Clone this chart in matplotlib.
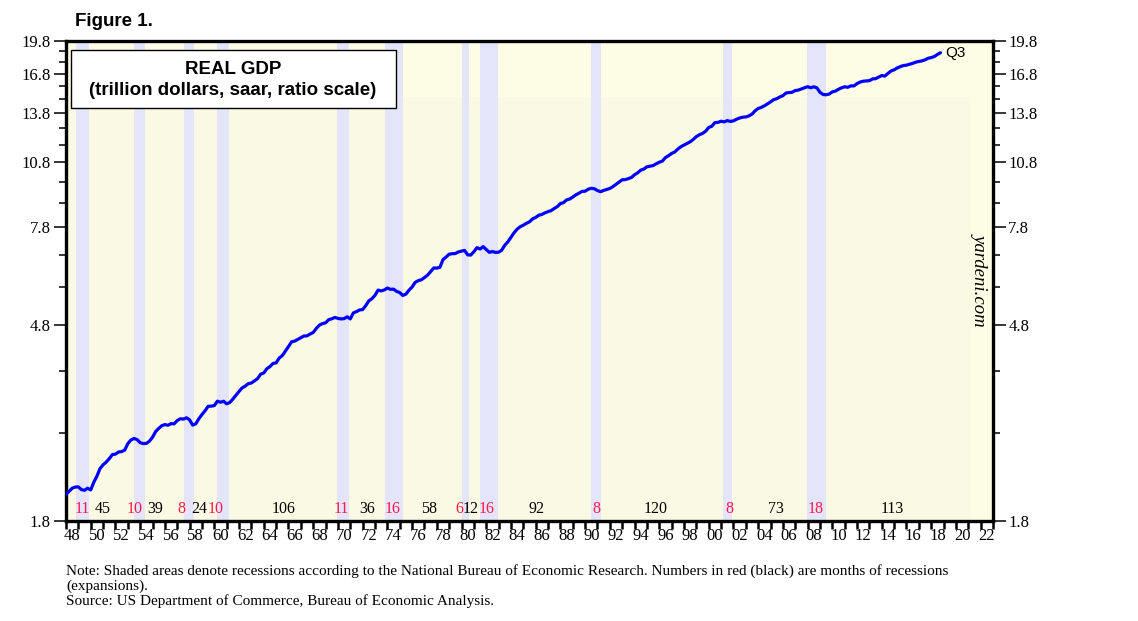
import matplotlib
matplotlib.use("Agg")
import matplotlib.pyplot as plt
import matplotlib.transforms as mtransforms
import numpy as np

# ---------------- data ----------------
# Real GDP, billions of chained dollars, quarterly from 1947Q1 to 2018Q3
gdp_start_year = 1947
gdp_q = [
    2033.1, 2027.6, 2023.5, 2055.1,   # 1947
    2086.0, 2120.4, 2132.6, 2134.0,   # 1948
    2105.6, 2098.4, 2120.0, 2102.3,   # 1949
    2184.9, 2251.5, 2338.5, 2383.2,   # 1950
    2415.7, 2457.5, 2508.2, 2513.7,   # 1951
    2540.6, 2546.0, 2564.4, 2648.6,   # 1952
    2697.9, 2718.7, 2703.7, 2662.5,   # 1953
    2649.7, 2652.6, 2682.6, 2735.1,   # 1954
    2813.2, 2858.8, 2897.6, 2914.0,   # 1955
    2903.7, 2927.7, 2925.0, 2973.2,   # 1956
    3000.0, 2994.5, 3014.5, 2983.1,   # 1957
    2906.3, 2925.4, 3000.7, 3063.7,   # 1958
    3121.9, 3192.4, 3194.7, 3203.8,   # 1959
    3275.8, 3258.1, 3274.0, 3232.0,   # 1960
    3253.8, 3309.1, 3372.6, 3438.7,   # 1961
    3500.1, 3531.4, 3575.1, 3586.8,   # 1962
    3625.3, 3666.7, 3747.3, 3771.8,   # 1963
    3851.4, 3893.3, 3954.1, 3966.3,   # 1964
    4062.3, 4113.6, 4205.1, 4301.0,   # 1965
    4406.0, 4421.2, 4459.2, 4495.8,   # 1966
    4535.6, 4538.4, 4581.3, 4615.9,   # 1967
    4709.9, 4788.7, 4825.7, 4844.1,   # 1968
    4920.9, 4942.1, 4976.4, 4953.0,   # 1969
    4940.0, 4947.0, 4992.4, 4939.0,   # 1970
    5091.2, 5122.6, 5165.5, 5175.9,   # 1971
    5278.1, 5405.2, 5466.1, 5558.8,   # 1972
    5705.2, 5680.7, 5709.1, 5763.3,   # 1973
    5726.6, 5732.0, 5668.8, 5634.3,   # 1974
    5554.6, 5590.1, 5703.2, 5791.9,   # 1975
    5930.1, 5978.6, 6006.9, 6072.4,   # 1976
    6145.5, 6256.8, 6370.4, 6368.1,   # 1977
    6389.5, 6643.3, 6728.8, 6825.5,   # 1978
    6842.4, 6847.9, 6903.4, 6932.4,   # 1979
    6954.9, 6801.2, 6797.2, 6909.2,   # 1980
    7052.4, 7004.4, 7088.7, 6988.7,   # 1981
    6889.8, 6915.7, 6887.5, 6893.3,   # 1982
    6963.5, 7136.7, 7260.1, 7428.0,   # 1983
    7595.6, 7734.8, 7827.8, 7890.1,   # 1984
    7963.8, 8024.1, 8141.5, 8202.0,   # 1985
    8292.8, 8324.1, 8391.9, 8441.9,   # 1986
    8485.9, 8576.6, 8656.0, 8790.6,   # 1987
    8830.4, 8951.5, 8990.0, 9079.3,   # 1988
    9180.8, 9255.8, 9341.3, 9349.0,   # 1989
    9443.8, 9486.8, 9464.2, 9380.2,   # 1990
    9325.2, 9383.9, 9432.8, 9479.2,   # 1991
    9567.0, 9676.1, 9786.9, 9898.9,   # 1992
    9908.4, 9955.6, 10014.9, 10151.5, # 1993
    10248.7, 10386.1, 10443.4, 10562.3,  # 1994
    10596.2, 10625.4, 10722.3, 10805.7,  # 1995
    10869.0, 11061.6, 11167.0, 11291.0,  # 1996
    11373.1, 11538.8, 11677.4, 11771.4,  # 1997
    11873.2, 11966.7, 12109.8, 12281.6,  # 1998
    12398.0, 12477.5, 12617.2, 12854.8,  # 1999
    12935.3, 13170.7, 13183.9, 13262.2,  # 2000
    13219.3, 13301.4, 13248.1, 13284.9,  # 2001
    13394.9, 13477.4, 13531.7, 13549.4,  # 2002
    13619.4, 13741.1, 13970.2, 14131.4,  # 2003
    14212.3, 14323.0, 14457.8, 14605.6,  # 2004
    14767.8, 14839.8, 14972.1, 15066.6,  # 2005
    15267.0, 15302.7, 15326.4, 15456.9,  # 2006
    15493.3, 15582.1, 15666.7, 15762.0,  # 2007
    15671.4, 15752.3, 15667.0, 15328.0,  # 2008
    15155.9, 15134.1, 15189.2, 15356.1,  # 2009
    15415.1, 15557.3, 15671.9, 15750.6,  # 2010
    15712.8, 15825.1, 15820.7, 16004.1,  # 2011
    16129.4, 16198.8, 16220.7, 16239.1,  # 2012
    16382.9, 16403.2, 16531.7, 16663.6,  # 2013
    16616.5, 16841.5, 17047.1, 17143.0,  # 2014
    17305.8, 17422.8, 17514.1, 17550.7,  # 2015
    17625.6, 17706.7, 17814.8, 17876.2,  # 2016
    17925.3, 18021.0, 18163.6, 18223.8,  # 2017
    18323.9, 18511.6, 18671.5,           # 2018
]

# NBER recessions: (peak year, peak month, trough year, trough month)
recessions = [
    (1948, 11, 1949, 10), (1953, 7, 1954, 5), (1957, 8, 1958, 4),
    (1960, 4, 1961, 2), (1969, 12, 1970, 11), (1973, 11, 1975, 3),
    (1980, 1, 1980, 7), (1981, 7, 1982, 11), (1990, 7, 1991, 3),
    (2001, 3, 2001, 11), (2007, 12, 2009, 6),
]

# months of recession (red) / expansion (black) labels
cycle_labels = ["11", "45", "10", "39", "8", "24", "10", "106", "11", "36", "16",
                "58", "6", "12", "16", "92", "8", "120", "8", "73", "18", "113"]
cycle_is_recession = [1, 0, 1, 0, 1, 0, 1, 0, 1, 0, 1,
                      0, 1, 0, 1, 0, 1, 0, 1, 0, 1, 0]
cycle_label_year = [1949.31, 1950.98, 1953.56, 1955.19, 1957.37, 1958.75, 1960.1,
                    1965.57, 1970.24, 1972.39, 1974.44, 1977.38, 1979.8, 1980.75,
                    1982.06, 1986.09, 1990.89, 1995.69, 2001.65, 2005.42, 2008.66,
                    2014.88]

y_major = [1.8, 4.8, 7.8, 10.8, 13.8, 16.8, 19.8]
y_minor = [2.8, 3.8, 5.8, 6.8, 8.8, 9.8, 11.8, 12.8, 14.8, 15.8, 17.8, 18.8]
x_first, x_last = 1948, 2023

# ---------------- figure ----------------
W, H = 1138, 621
fig = plt.figure(figsize=(W / 100, H / 100), dpi=100)
fig.patch.set_facecolor("white")

L, R, T, B = 66, 993, 41, 521
ax = fig.add_axes([L / W, 1 - B / H, (R - L) / W, (B - T) / H])
ax.set_facecolor("#FAF9E4")
ax.set_yscale("log")
ax.set_xlim(x_first, x_last)
ax.set_ylim(y_major[0], y_major[-1])

# slightly lighter regions of the background
ax.axhspan(15.0, y_major[-1], color="#FDFDE6", zorder=0.5, lw=0)
ax.axvspan(2021.2, x_last, color="#FDFDE6", zorder=0.5, lw=0)

for py, pm, ty, tm in recessions:
    ax.axvspan(py + (pm - 1) / 12, ty + tm / 12, color="#E4E4FA", lw=0, zorder=1)

vals = np.array(gdp_q) / 1000.0
dates = gdp_start_year + (np.arange(len(vals)) + 1) / 4.0
ax.plot(dates, vals, color="#0000FF", lw=2.3, zorder=3, solid_capstyle="round")
ax.text(dates[-1] + 0.4, vals[-1], "Q3", family="Liberation Sans", fontsize=11,
        ha="left", va="center", zorder=4)

# ticks
serif = "Liberation Serif"
tick_fs = 12
ax.set_yticks(y_major)
ax.set_yticklabels([f"{v:.1f}" for v in y_major])
ax.set_yticks(y_minor, minor=True)
ax.yaxis.set_minor_formatter(matplotlib.ticker.NullFormatter())
ax.tick_params(axis="y", which="major", direction="out", length=9, width=1.1,
               left=True, right=True, labelleft=True, labelright=True,
               labelsize=tick_fs, pad=2)
ax.tick_params(axis="y", which="minor", direction="out", length=5, width=1.1,
               left=True, right=True)

years = np.arange(x_first, x_last + 1)
ax.set_xticks(years)
ax.set_xticklabels([""] * len(years))
lab_years = np.arange(x_first, x_last, 2)
ax.set_xticks(lab_years + 0.5, [f"{y % 100:02d}" for y in lab_years], minor=True)
ax.tick_params(axis="x", which="major", direction="out", length=6, width=1.8)
ax.tick_params(axis="x", which="minor", length=0, labelsize=tick_fs, pad=5)
for lab in ax.get_xticklabels(minor=True):
    lab.set_family(serif)
for t in ax.yaxis.get_major_ticks():
    t.label1.set_family(serif)
    t.label2.set_family(serif)

for s in ax.spines.values():
    s.set_linewidth(2.4)
    s.set_color("black")

# cycle labels
trans = mtransforms.blended_transform_factory(ax.transData, ax.transAxes)
for lab, isrec, xy in zip(cycle_labels, cycle_is_recession, cycle_label_year):
    ax.text(xy, 0.025, lab, transform=trans, ha="center", va="center",
            family=serif, fontsize=11.5,
            color="#FF1A4A" if isrec else "black", zorder=4)

# title box
ax.text(233 / W, 1 - 80 / H, "REAL GDP\n(trillion dollars, saar, ratio scale)",
        transform=fig.transFigure, ha="center", va="center",
        family="Liberation Sans", fontweight="bold", fontsize=13.5,
        linespacing=1.25, zorder=6)
box = plt.Rectangle((70.5 / W, 1 - 108 / H), 326 / W, 58 / H, transform=fig.transFigure,
                    facecolor="white", edgecolor="black", lw=1.0, zorder=5)
ax.add_artist(box)
box.set_clip_on(False)

# yardeni.com
ax.text(980 / W, 1 - 279 / H, "yardeni.com", transform=fig.transFigure, rotation=-90,
        ha="center", va="center", family=serif, style="italic", fontsize=13.5)

# figure title
fig.text(75 / W, 1 - 22 / H, "Figure 1.", family="Liberation Sans", fontweight="bold",
         fontsize=13.5, ha="left", va="center")

# notes
notes = ["Note: Shaded areas denote recessions according to the National Bureau of Economic Research. Numbers in red (black) are months of recessions",
         "(expansions).",
         "Source: US Department of Commerce, Bureau of Economic Analysis."]
for i, line in enumerate(notes):
    fig.text(66 / W, 1 - (571 + 15 * i) / H, line, family=serif, fontsize=11,
             ha="left", va="center")

fig.savefig("out.png", dpi=100)
